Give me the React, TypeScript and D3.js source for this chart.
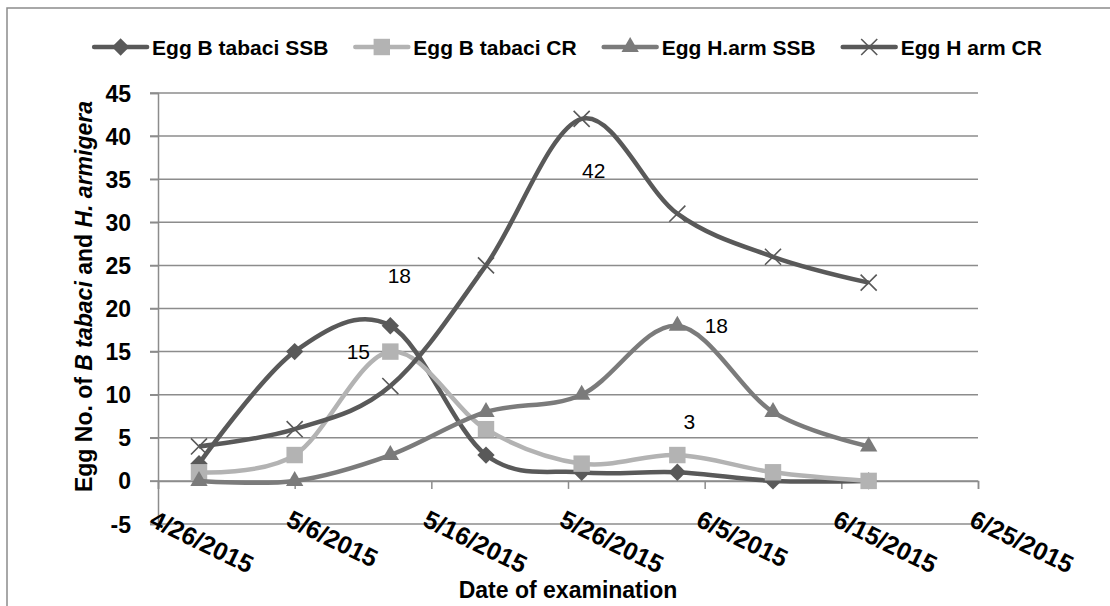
import React, { useRef, useEffect } from 'react';
import * as d3 from 'd3';

// sampling dates (weekly) and egg counts
const sampleDates = ['2015-04-29', '2015-05-06', '2015-05-13', '2015-05-20', '2015-05-27', '2015-06-03', '2015-06-10', '2015-06-17'];
const tabaciSSB = [2, 15, 18, 3, 1, 1, 0, 0];
const tabaciCR = [1, 3, 15, 6, 2, 3, 1, 0];
const harmSSB = [0, 0, 3, 8, 10, 18, 8, 4];
const harmCR = [4, 6, 11, 25, 42, 31, 26, 23];

const seriesNames = ['Egg B tabaci SSB', 'Egg B tabaci CR', 'Egg H.arm SSB', 'Egg H arm CR'];
const seriesColors = ['#595959', '#b3b3b3', '#7b7b7b', '#595959'];
const seriesMarkers = ['diamond', 'square', 'triangle', 'times'];

const tickDates = ['2015-04-26', '2015-05-06', '2015-05-16', '2015-05-26', '2015-06-05', '2015-06-15', '2015-06-25'];
const yTicks = [-5, 0, 5, 10, 15, 20, 25, 30, 35, 40, 45];

// data labels shown on the chart: [series index, point index, dx, dy]
const dataLabels: [number, number, number, number][] = [
  [0, 2, 9, -50],
  [1, 2, -32, 0],
  [3, 4, 12, 52],
  [2, 5, 39, 0],
  [1, 5, 12, -34],
];

const W = 1110;
const H = 606;
const margin = { left: 158, right: 978, top: 93, bottom: 524 };
const grid = '#8c8c8c';
const font = '"Liberation Sans", Arial, sans-serif';

const parse = d3.timeParse('%Y-%m-%d');
const fmt = d3.timeFormat('%-m/%-d/%Y');

function markerPath(type: string): string {
  if (type === 'diamond') return d3.symbol(d3.symbolSquare, 150)()!;
  if (type === 'square') return d3.symbol(d3.symbolSquare, 270)()!;
  if (type === 'triangle') return d3.symbol(d3.symbolTriangle, 130)()!;
  return d3.symbol(d3.symbolTimes, 170)()!;
}

function drawMarker(g: d3.Selection<SVGGElement, unknown, null, undefined>, type: string, color: string, x: number, y: number) {
  const p = g.append('path')
    .attr('d', markerPath(type))
    .attr('transform', `translate(${x},${y})${type === 'diamond' ? ' rotate(45)' : ''}`);
  if (type === 'times') {
    p.attr('fill', 'none').attr('stroke', color).attr('stroke-width', 1.6);
  } else {
    p.attr('fill', color);
  }
}

const App: React.FC = () => {
  const svgRef = useRef<SVGSVGElement | null>(null);

  useEffect(() => {
    document.body.style.margin = '0';
    const svg = d3.select(svgRef.current);
    svg.selectAll('*').remove();

    const dates = sampleDates.map(d => parse(d)!);
    const ticks = tickDates.map(d => parse(d)!);
    const allSeries = [tabaciSSB, tabaciCR, harmSSB, harmCR];

    const x = d3.scaleTime()
      .domain([ticks[0], ticks[ticks.length - 1]])
      .range([margin.left, margin.right]);
    const y = d3.scaleLinear()
      .domain([-5, 45])
      .range([margin.bottom, margin.top]);

    // outer chart frame
    svg.append('rect')
      .attr('x', 7).attr('y', 8)
      .attr('width', W + 20).attr('height', H + 20)
      .attr('fill', 'white')
      .attr('stroke', '#8c8c8c').attr('stroke-width', 1.5);

    // horizontal gridlines
    svg.append('g')
      .selectAll('line')
      .data(yTicks)
      .enter()
      .append('line')
      .attr('x1', margin.left - 8)
      .attr('x2', margin.right)
      .attr('y1', d => y(d))
      .attr('y2', d => y(d))
      .attr('stroke', grid)
      .attr('stroke-width', 1.5);

    // y axis
    const yAxis = d3.axisLeft(y).tickValues(yTicks).tickSize(8).tickPadding(19)
      .tickFormat(d => String(d));
    const yg = svg.append('g')
      .attr('transform', `translate(${margin.left},0)`)
      .call(yAxis);
    yg.select('.domain').attr('stroke', grid).attr('stroke-width', 1.5);
    yg.selectAll('.tick line').attr('stroke', grid).attr('stroke-width', 1.5);
    yg.selectAll('.tick text')
      .attr('fill', '#000')
      .attr('dy', '0.35em')
      .style('font-family', font)
      .style('font-size', '23px')
      .style('font-weight', 'bold');

    // x axis at y = 0
    const xAxis = d3.axisBottom(x).tickValues(ticks).tickSize(8).tickFormat(() => '');
    const xg = svg.append('g')
      .attr('transform', `translate(0,${y(0)})`)
      .call(xAxis);
    xg.select('.domain').attr('stroke', grid).attr('stroke-width', 1.5);
    xg.selectAll('.tick line').attr('stroke', grid).attr('stroke-width', 1.5);

    // rotated date labels below the plot
    svg.append('g')
      .selectAll('text')
      .data(ticks)
      .enter()
      .append('text')
      .attr('transform', d => `translate(${x(d) - 2},${margin.bottom - 15}) rotate(26)`)
      .attr('dy', '0.72em')
      .style('font-family', font)
      .style('font-size', '25px')
      .style('font-weight', 'bold')
      .text(d => fmt(d));

    // series
    const line = d3.line<number>()
      .x((_, i) => x(dates[i]))
      .y(d => y(d))
      .curve(d3.curveCardinal.tension(0));

    allSeries.forEach((vals, si) => {
      const g = svg.append('g');
      g.append('path')
        .attr('d', line(vals)!)
        .attr('fill', 'none')
        .attr('stroke', seriesColors[si])
        .attr('stroke-width', 4.5)
        .attr('stroke-linejoin', 'round');
      vals.forEach((v, i) => drawMarker(g, seriesMarkers[si], seriesColors[si], x(dates[i]), y(v)));
    });

    // data labels
    svg.append('g')
      .selectAll('text')
      .data(dataLabels)
      .enter()
      .append('text')
      .attr('x', d => x(dates[d[1]]) + d[2])
      .attr('y', d => y(allSeries[d[0]][d[1]]) + d[3])
      .attr('dy', '0.36em')
      .attr('text-anchor', 'middle')
      .style('font-family', font)
      .style('font-size', '21px')
      .text(d => String(allSeries[d[0]][d[1]]));

    // axis titles
    svg.append('text')
      .attr('x', (margin.left + margin.right) / 2)
      .attr('y', 598)
      .attr('text-anchor', 'middle')
      .style('font-family', font)
      .style('font-size', '23px')
      .style('font-weight', 'bold')
      .text('Date of examination');

    const yt = svg.append('text')
      .attr('transform', `translate(92,${(margin.top + margin.bottom) / 2 - 12}) rotate(-90)`)
      .attr('text-anchor', 'middle')
      .style('font-family', font)
      .style('font-size', '23px')
      .style('font-weight', 'bold');
    yt.append('tspan').text('Egg No. of ');
    yt.append('tspan').style('font-style', 'italic').text('B tabaci');
    yt.append('tspan').text(' and ');
    yt.append('tspan').style('font-style', 'italic').text('H. armigera');

    // legend, laid out from measured text widths and centred
    const lg = svg.append('g');
    const items = seriesNames.map((name, i) => {
      const g = lg.append('g');
      g.append('line')
        .attr('x1', 0).attr('x2', 53).attr('y1', 0).attr('y2', 0)
        .attr('stroke', seriesColors[i]).attr('stroke-width', 4.5)
        .attr('stroke-linecap', 'round');
      drawMarker(g, seriesMarkers[i], seriesColors[i], 26.5, 0);
      const t = g.append('text')
        .attr('x', 58).attr('y', 0).attr('dy', '0.36em')
        .style('font-family', font)
        .style('font-size', '21px')
        .style('font-weight', 'bold')
        .text(name);
      const w = 58 + (t.node() as SVGTextElement).getComputedTextLength();
      return { g, w };
    });
    const gap = 27;
    const total = d3.sum(items, d => d.w) + gap * (items.length - 1);
    let cx = (margin.left + margin.right) / 2 - total / 2;
    items.forEach(it => {
      it.g.attr('transform', `translate(${cx},47)`);
      cx += it.w + gap;
    });
  }, []);

  return <svg ref={svgRef} width={W} height={H} style={{ display: 'block' }}></svg>;
};

export default App;
